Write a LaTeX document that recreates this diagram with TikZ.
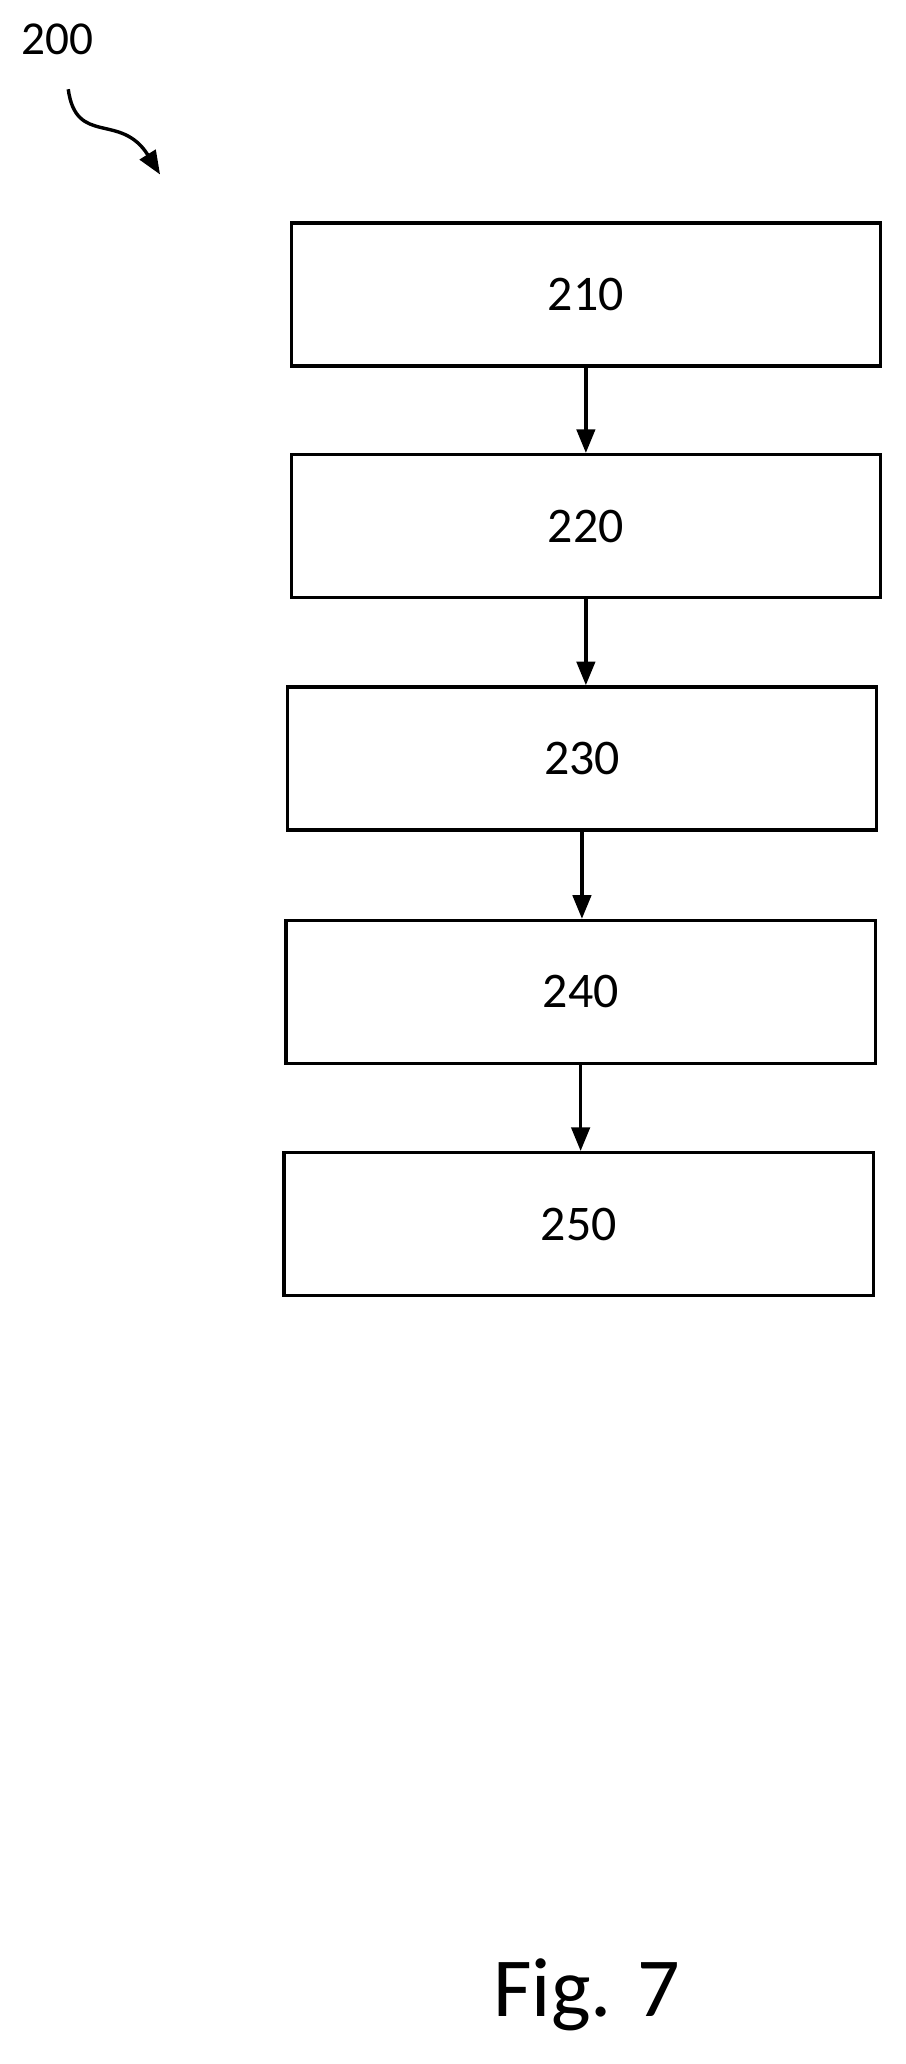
\documentclass[tikz,border=0pt]{standalone}
\usepackage{fontspec}
\setmainfont{Carlito}
\usetikzlibrary{arrows.meta}
\tikzset{
  stepbox/.style={draw, line width=2.6pt, minimum width=449pt, minimum height=109pt, inner sep=0pt, font=\fontsize{38}{40}\selectfont},
  flow/.style={-{Triangle[length=18pt,width=14pt]}, line width=2.6pt}
}
\begin{document}
\begin{tikzpicture}[x=1pt,y=1pt]
\useasboundingbox (0,0) rectangle (690,-1573);

\node[font=\fontsize{36}{38}\selectfont] (ref) at (44,-30) {200};
\coordinate (curlyA) at (52,-68);
\coordinate (curlyB) at (122,-133);
\draw[flow] (curlyA) .. controls (58,-112) and (92,-85) .. (curlyB);

\node[stepbox] (b210) at (446.5,-224.5) {210};
\node[stepbox] (b220) at (446.5,-401) {220};
\node[stepbox] (b230) at (443.5,-578) {230};
\node[stepbox] (b240) at (442.5,-756) {240};
\node[stepbox] (b250) at (441,-933) {250};

\draw[flow] (b210.south) -- (b210.south |- b220.north);
\draw[flow] (b220.south) -- (b220.south |- b230.north);
\draw[flow] (b230.south) -- (b230.south |- b240.north);
\draw[flow] (b240.south) -- (b240.south |- b250.north);

\node[font=\fontsize{64}{68}\selectfont] (fig) at (447,-1520) {Fig. 7};
\end{tikzpicture}
\end{document}
